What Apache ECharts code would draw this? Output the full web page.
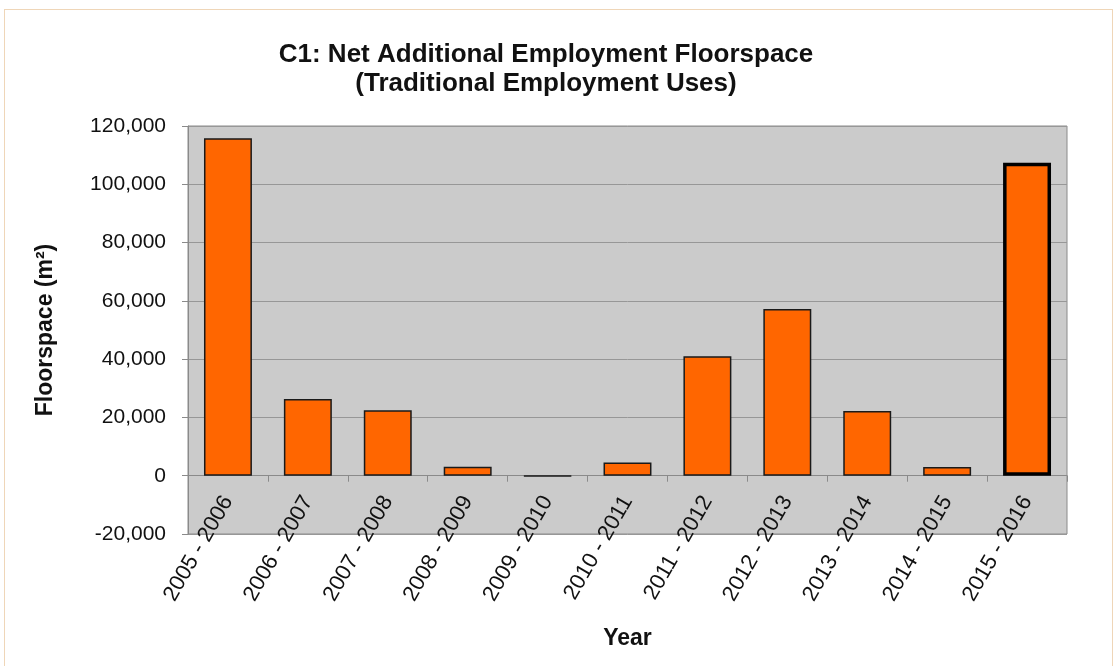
<!DOCTYPE html>
<html>
<head>
<meta charset="utf-8">
<script src="https://cdn.jsdelivr.net/npm/echarts@6/dist/echarts.min.js"></script>
<style>
  html, body { margin: 0; padding: 0; background: #fff; }
  #frame { position: absolute; left: 4px; top: 9px; width: 1109px; height: 670px; border: 1px solid #efd6b8; box-sizing: border-box; }
  #chart { position: absolute; left: 0; top: 0; width: 1117px; height: 666px; }
</style>
</head>
<body>
<div id="frame"></div>
<div id="chart"></div>
<script>
// Financial years
const years = ['2005 - 2006', '2006 - 2007', '2007 - 2008', '2008 - 2009', '2009 - 2010',
               '2010 - 2011', '2011 - 2012', '2012 - 2013', '2013 - 2014', '2014 - 2015', '2015 - 2016'];
// Net additional floorspace, m²
const floorspace = [115800, 26300, 22500, 3100, -150, 4500, 41000, 57200, 22200, 3000, 107400];
// Index of the current monitoring year (drawn with a heavier outline)
const currentIndex = 10;

const axisFont = 'Liberation Sans, Arial, sans-serif';

const barData = floorspace.map((v, i) => (
  i === currentIndex
    ? { value: v, itemStyle: { borderWidth: 3.5, borderColor: '#000' } }
    : v
));

const gridBox = { left: 188, right: 50, top: 126, bottom: 132 };

const chart = echarts.init(document.getElementById('chart'), null, { renderer: 'canvas' });
chart.setOption({
  animation: false,
  backgroundColor: 'transparent',
  title: {
    text: 'C1: Net Additional Employment Floorspace\n(Traditional Employment Uses)',
    left: 541,
    textAlign: 'center',
    top: 35,
    textStyle: { fontFamily: axisFont, fontWeight: 'bold', fontSize: 26, lineHeight: 29, color: '#111' }
  },
  grid: Object.assign({
    outerBoundsMode: 'none',
    containLabel: false,
    show: true, backgroundColor: '#cbcbcb', borderColor: '#8a8a8a', borderWidth: 1
  }, gridBox),
  xAxis: {
    type: 'category',
    data: years,
    name: 'Year',
    nameLocation: 'middle',
    nameGap: 151,
    nameTextStyle: { fontFamily: axisFont, fontWeight: 'bold', fontSize: 23, color: '#111' },
    axisLine: { onZero: false, lineStyle: { color: '#8a8a8a', width: 1 } },
    axisTick: { show: true, length: 6, lineStyle: { color: '#8a8a8a' } },
    axisLabel: { rotate: 60, margin: 22, fontFamily: axisFont, fontSize: 22, color: '#111' },
    splitLine: { show: false }
  },
  yAxis: {
    type: 'value',
    min: -20000,
    max: 120000,
    interval: 20000,
    name: 'Floorspace (m²)',
    nameLocation: 'middle',
    nameGap: 131,
    nameRotate: 90,
    nameTextStyle: { fontFamily: axisFont, fontWeight: 'bold', fontSize: 23, color: '#111' },
    axisLine: { show: true, lineStyle: { color: '#8a8a8a' } },
    axisTick: { show: true, length: 6, lineStyle: { color: '#8a8a8a' } },
    axisLabel: { margin: 22, fontFamily: axisFont, fontSize: 21, color: '#111' },
    splitLine: { show: true, lineStyle: { color: '#979797', width: 1 } }
  },
  series: [{
    type: 'bar',
    data: barData,
    barWidth: '60%',
    itemStyle: { color: '#ff6600', borderColor: '#1a1a1a', borderWidth: 1.5 }
  }]
});

// Put the category axis (line, ticks, labels, name) on the zero value line.
const zeroY = chart.convertToPixel({ yAxisIndex: 0 }, 0);
const gridBottomY = chart.getHeight() - gridBox.bottom;
chart.setOption({ xAxis: { offset: zeroY - gridBottomY } });
</script>
</body>
</html>
